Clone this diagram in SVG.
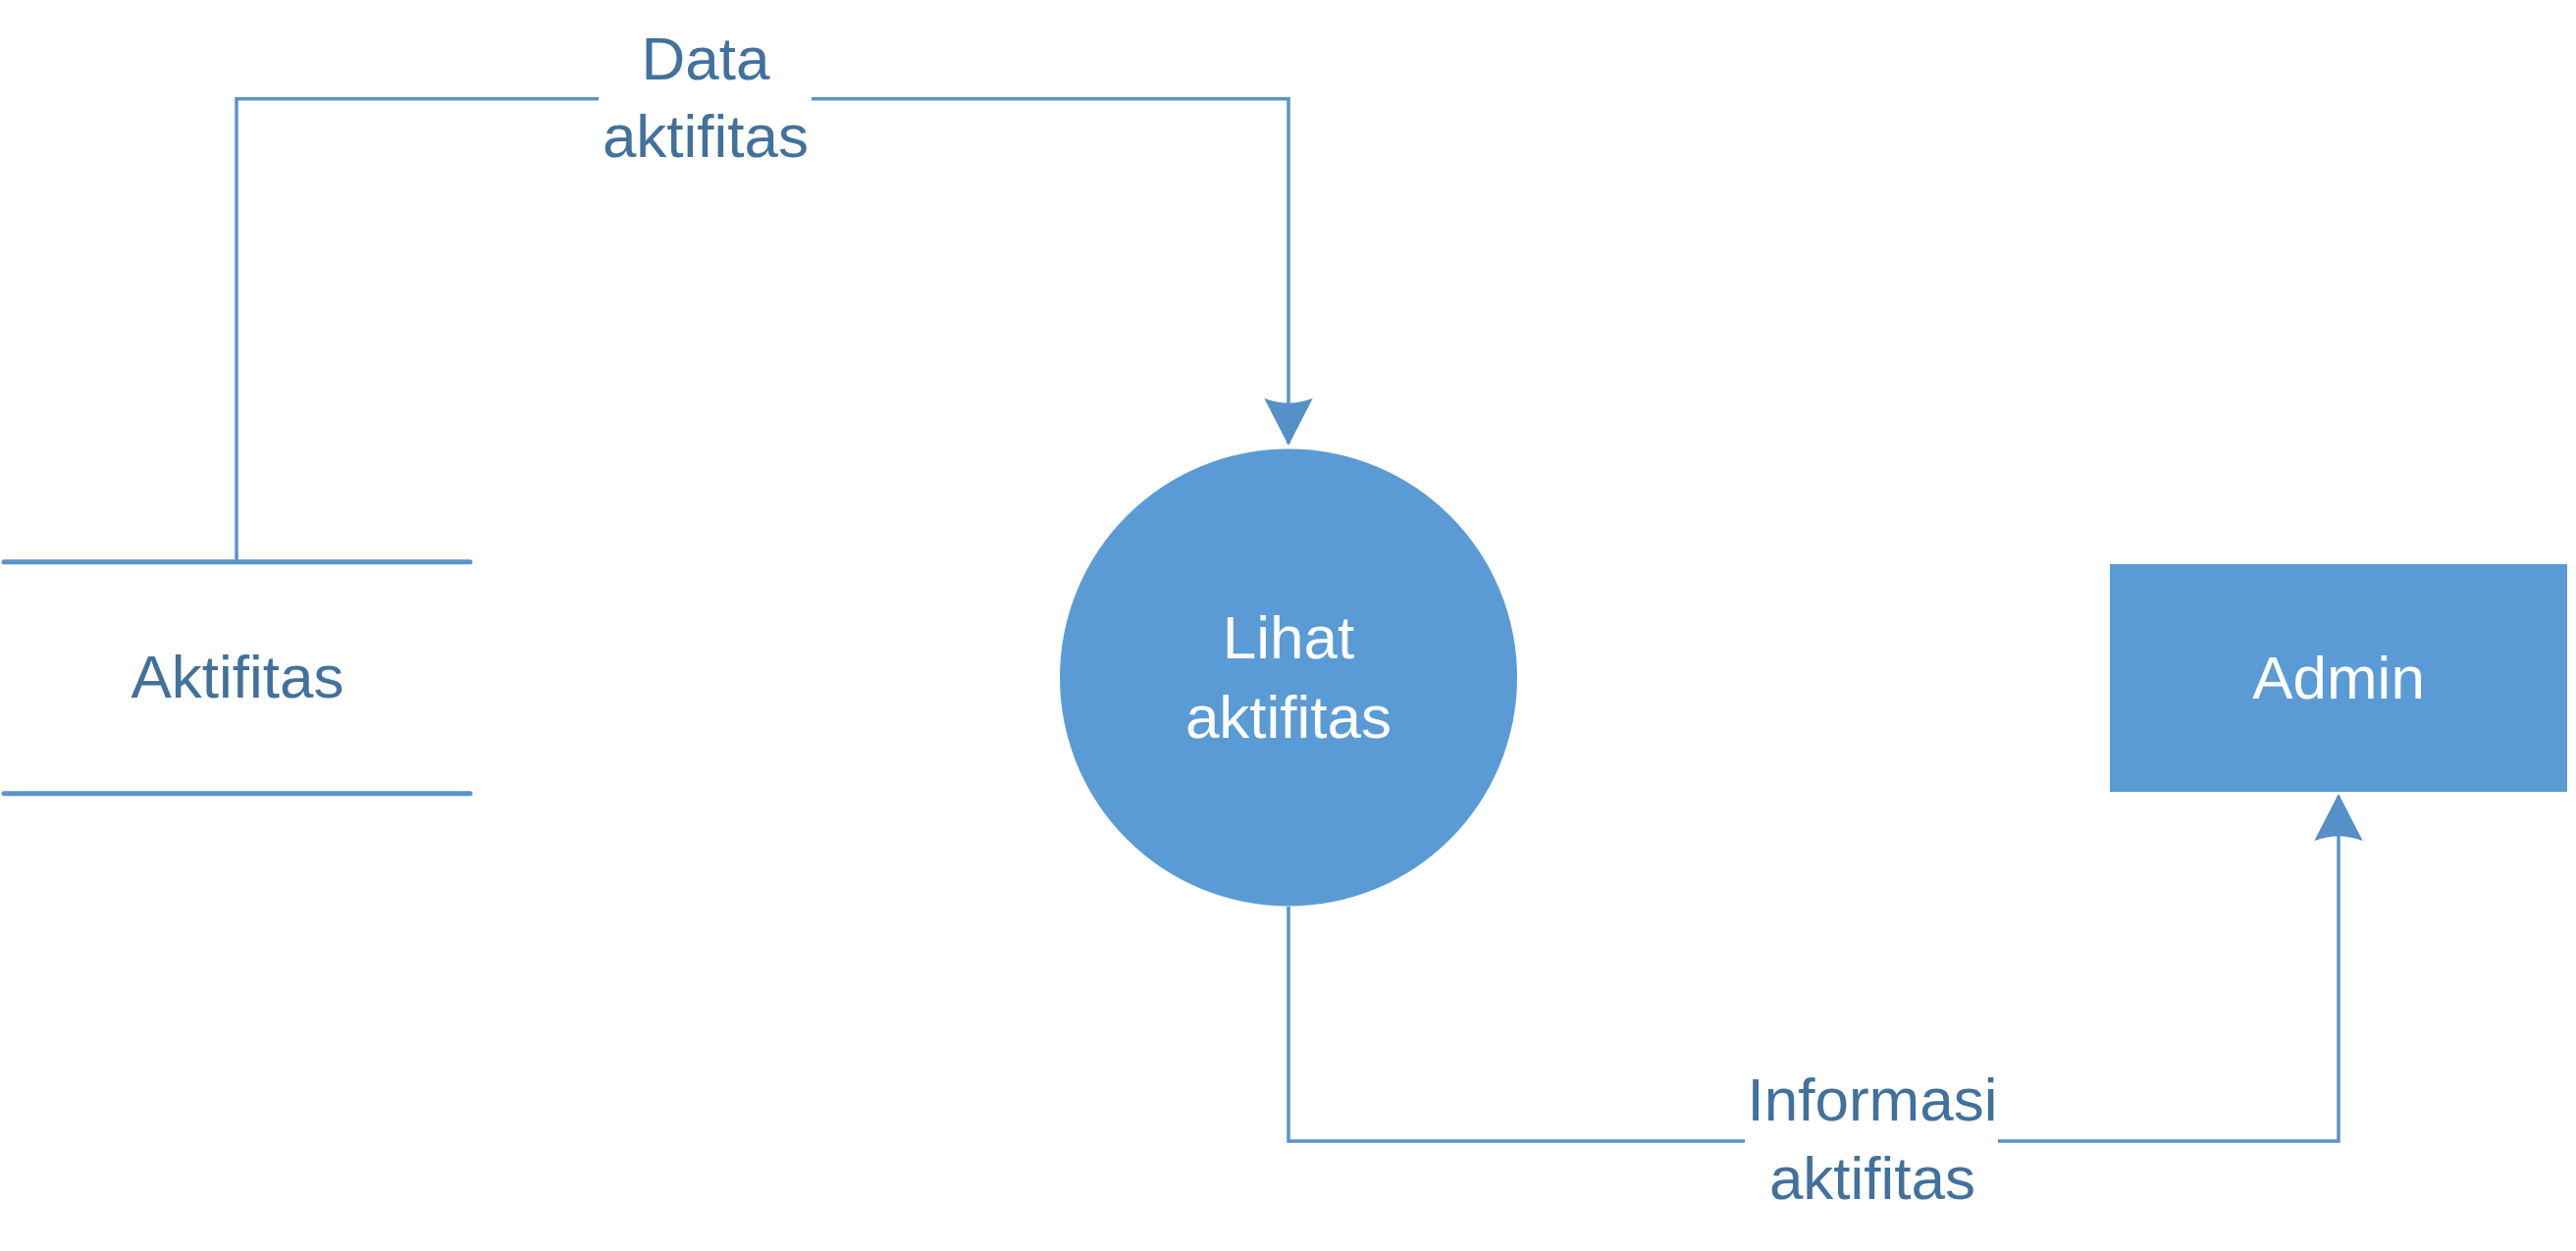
<svg xmlns="http://www.w3.org/2000/svg" width="2625" height="1275" viewBox="0 0 2625 1275">
<style>
.conn{fill:none;stroke:#5B93CB;stroke-width:3.5;stroke-linejoin:miter}
.store{stroke:#5B93CB;stroke-width:5;stroke-linecap:round}
.shape{fill:#5B9BD5}
.lbl{font-family:"Liberation Sans",Arial,sans-serif;font-size:62px;fill:#41719C;text-anchor:middle}
.wt{font-family:"Liberation Sans",Arial,sans-serif;font-size:62px;fill:#FFFFFF;text-anchor:middle}
</style>
<defs>
<marker id="arr" markerUnits="userSpaceOnUse" orient="auto" markerWidth="60" markerHeight="60" refX="46" refY="0" viewBox="-2 -30 54 60" overflow="visible">
<path d="M0,-24.7 L48,0 L0,24.7 Q9.4,0 0,-24.7 Z" fill="#5590C8"/>
</marker>
</defs>
<rect width="2625" height="1275" fill="#FFFFFF"/>
<g id="connectors">
<path class="conn" d="M241,572 V100.7 H1313 V452" marker-end="url(#arr)"/>
<path class="conn" d="M1313,924 V1163 H2383 V811" marker-end="url(#arr)"/>
</g>
<g id="label-data">
<rect x="610" y="60" width="217" height="120" fill="#FFFFFF"/>
<text class="lbl" x="719" y="81">Data</text>
<text class="lbl" x="719" y="160">aktifitas</text>
</g>
<g id="label-informasi">
<rect x="1778" y="1120" width="258" height="120" fill="#FFFFFF"/>
<text class="lbl" x="1908" y="1142">Informasi</text>
<text class="lbl" x="1908" y="1222">aktifitas</text>
</g>
<g id="store-aktifitas">
<line class="store" x1="4" y1="572.7" x2="479" y2="572.7"/>
<line class="store" x1="4" y1="808.7" x2="479" y2="808.7"/>
<text class="lbl" x="242" y="711">Aktifitas</text>
</g>
<g id="process-lihat">
<circle class="shape" cx="1313" cy="690.5" r="233"/>
<text class="wt" x="1313" y="671">Lihat</text>
<text class="wt" x="1313" y="752">aktifitas</text>
</g>
<g id="entity-admin">
<rect class="shape" x="2150" y="575" width="466" height="232"/>
<text class="wt" x="2383" y="712">Admin</text>
</g>
</svg>
